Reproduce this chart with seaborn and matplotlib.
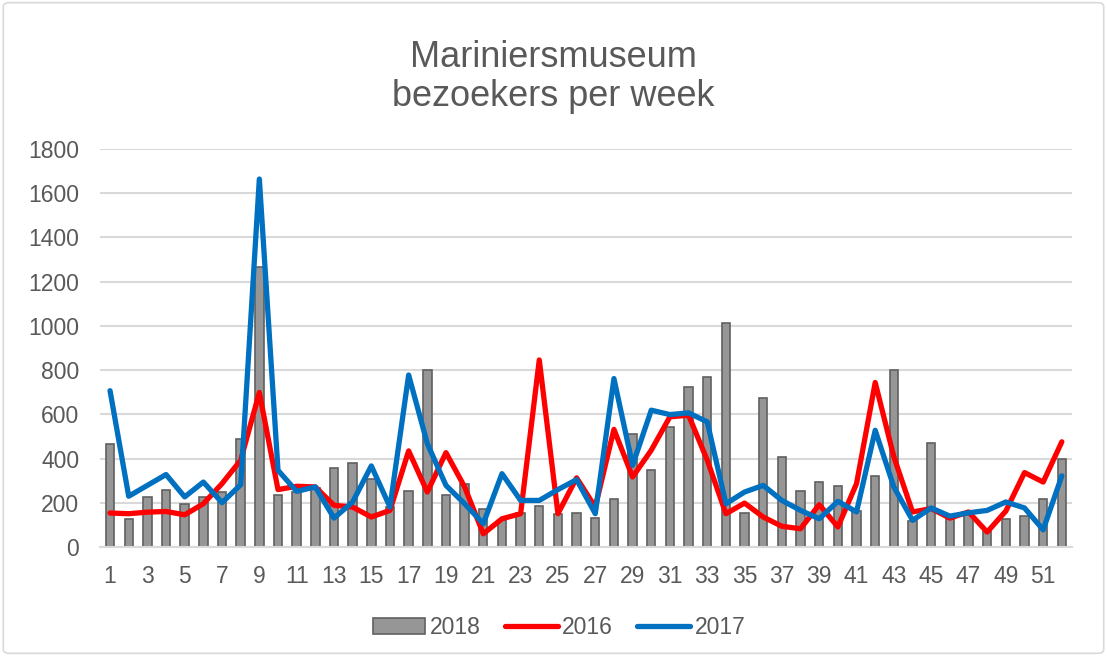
import matplotlib
matplotlib.use('Agg')
import matplotlib.pyplot as plt
from matplotlib.patches import Patch, FancyBboxPatch
from matplotlib.lines import Line2D
import numpy as np
import pandas as pd
import seaborn as sns

# weeks and visitor counts per year
weeks = list(range(1, 53))
v2018 = [465, 128, 227, 260, 193, 227, 249, 489, 1265, 237, 249, 265, 356,
         378, 310, 181, 252, 802, 234, 287, 174, 121, 154, 187, 151, 154,
         133, 216, 510, 347, 541, 722, 767, 1013, 154, 675, 406, 255, 293,
         276, 165, 322, 800, 120, 471, 128, 151, 72, 128, 140, 217, 397]
v2016 = [154, 151, 158, 161, 146, 196, 287, 393, 699, 260, 275, 272, 189,
         181, 136, 166, 435, 249, 427, 272, 60, 128, 151, 846, 151, 313,
         181, 532, 317, 438, 589, 596, 393, 151, 199, 136, 94, 83, 192,
         91, 287, 744, 408, 159, 174, 131, 159, 68, 163, 337, 294, 476]
v2017 = [707, 230, 279, 328, 227, 294, 201, 282, 1664, 347, 252, 272, 131,
         204, 367, 181, 778, 468, 279, 196, 106, 332, 211, 211, 260, 305,
         151, 762, 370, 619, 599, 607, 566, 196, 249, 279, 211, 166, 128,
         207, 159, 528, 272, 121, 177, 140, 155, 166, 204, 177, 78, 322]

df = pd.DataFrame({'week': weeks, '2018': v2018, '2016': v2016, '2017': v2017})

sns.set_style('white')
plt.rcParams['font.family'] = ['Liberation Sans', 'DejaVu Sans']
txt = '#595959'

fig = plt.figure(figsize=(11.07, 6.56), dpi=100)
ax = fig.add_axes([0.0903, 0.166, 0.878, 0.607])

sns.barplot(data=df, x='week', y='2018', native_scale=True, width=0.45,
            color='#969696', edgecolor='#606060', linewidth=1.2,
            saturation=1, ax=ax, zorder=2)
sns.lineplot(data=df, x='week', y='2016', color='#ff0000', linewidth=3.8,
             ax=ax, zorder=3)
sns.lineplot(data=df, x='week', y='2017', color='#0070c0', linewidth=3.8,
             ax=ax, zorder=4)

ax.set_xlim(0.46, 52.54)
ax.set_ylim(0, 1800)
ax.set_yticks(range(0, 1801, 200))
ax.set_xticks(weeks[::2])
ax.set_xlabel('')
ax.set_ylabel('')
ax.grid(axis='y', color='#d9d9d9', linewidth=1.5, zorder=0)
ax.set_axisbelow(True)
for s in ['top', 'right', 'left']:
    ax.spines[s].set_visible(False)
ax.spines['bottom'].set_color('#d9d9d9')
ax.spines['bottom'].set_linewidth(1.5)
ax.tick_params(axis='both', length=0, labelsize=16.5, colors=txt)
ax.tick_params(axis='y', pad=15)
ax.tick_params(axis='x', pad=13)

fig.text(0.5, 0.883, 'Mariniersmuseum\nbezoekers per week', ha='center',
         va='center', fontsize=26, color=txt, linespacing=1.15)

handles = [Patch(facecolor='#969696', edgecolor='#606060', linewidth=1.2),
           Line2D([], [], color='#ff0000', linewidth=3.8, solid_capstyle='round'),
           Line2D([], [], color='#0070c0', linewidth=3.8, solid_capstyle='round')]
fig.legend(handles, ['2018', '2016', '2017'], loc='center',
           bbox_to_anchor=(0.505, 0.043), ncol=3, frameon=False,
           fontsize=16.5, labelcolor=txt, handlelength=2.3,
           handletextpad=0.2, columnspacing=1.05)

border = FancyBboxPatch((0.003, 0.004), 0.994, 0.992,
                        boxstyle='round,pad=0,rounding_size=0.006',
                        transform=fig.transFigure, fill=False,
                        edgecolor='#d9d9d9', linewidth=1.2)
fig.patches.append(border)

fig.savefig('out.png', dpi=100)
